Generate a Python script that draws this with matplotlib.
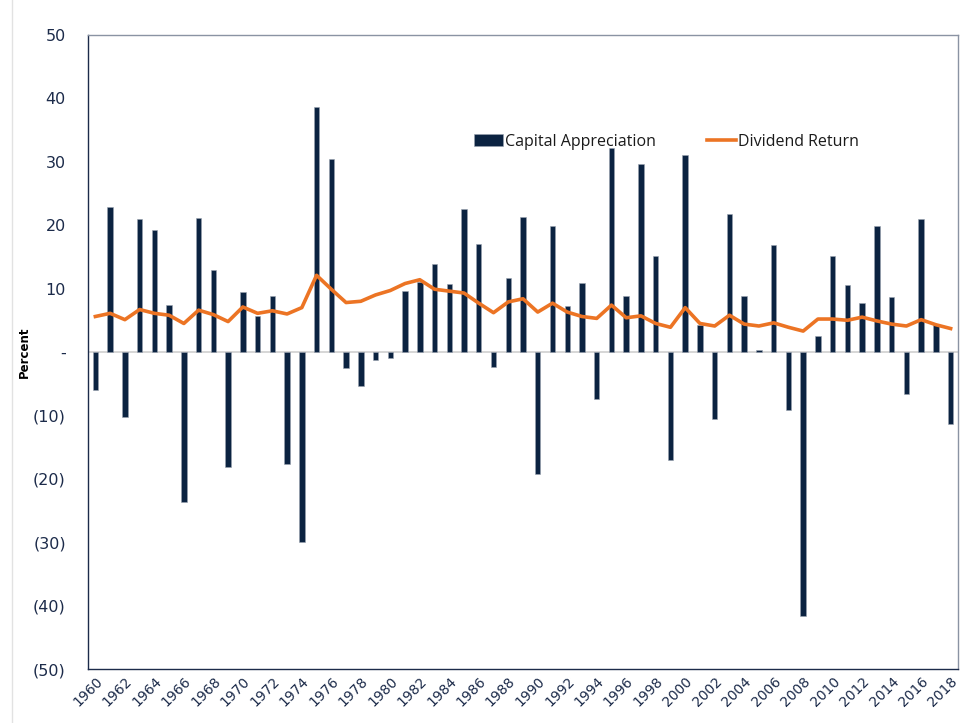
import matplotlib
matplotlib.use("Agg")
import matplotlib.pyplot as plt
from matplotlib.lines import Line2D
import numpy as np

years = list(range(1960, 2019))

capital_appreciation = [
    -6.0, 22.8, -10.3, 21.0, 19.3, 7.4, -23.7, 21.2, 12.9, -18.2,
    9.5, 5.6, 8.9, -17.6, -29.9, 38.7, 30.5, -2.6, -5.3, -1.2,
    -0.9, 9.7, 11.1, 13.9, 10.8, 22.6, 17.0, -2.3, 11.7, 21.3,
    -19.3, 19.8, 7.3, 10.9, -7.4, 32.2, 8.9, 29.7, 15.1, -17.0,
    31.1, 4.3, -10.5, 21.8, 8.9, 0.3, 16.9, -9.1, -41.6, 2.6,
    15.2, 10.5, 7.7, 19.8, 8.6, -6.7, 20.9, 4.3, -11.4,
]

dividend_return = [
    5.6, 6.1, 5.1, 6.7, 6.1, 5.8, 4.5, 6.6, 5.9, 4.8,
    7.1, 6.1, 6.5, 6.0, 7.0, 12.1, 9.9, 7.8, 8.0, 9.0,
    9.7, 10.8, 11.4, 9.9, 9.6, 9.3, 7.7, 6.2, 7.9, 8.4,
    6.3, 7.7, 6.3, 5.6, 5.3, 7.4, 5.4, 5.7, 4.5, 3.9,
    7.0, 4.5, 4.1, 5.8, 4.4, 4.1, 4.6, 3.9, 3.3, 5.2,
    5.2, 5.0, 5.5, 4.9, 4.4, 4.1, 5.1, 4.3, 3.7,
]

y_ticks = [50, 40, 30, 20, 10, 0, -10, -20, -30, -40, -50]
y_labels = ['50', '40', '30', '20', '10', '-', '(10)', '(20)', '(30)', '(40)', '(50)']

navy = '#0b2341'
orange = '#ec7424'
text_col = '#1c2b4a'

fig = plt.figure(figsize=(9.67, 7.23), dpi=100)
ax = fig.add_axes([88 / 967, 1 - 669 / 723, 870 / 967, 634 / 723])

x = np.arange(len(years))
ax.axhline(0, color='#d0d0d0', lw=1.2, zorder=1)
bars = ax.bar(x, capital_appreciation, width=0.37, color=navy, edgecolor='#9aa3b0',
              linewidth=0.4, label='Capital Appreciation', zorder=2)
line, = ax.plot(x, dividend_return, color=orange, lw=2.6, label='Dividend Return', zorder=3)

ax.set_xlim(-0.5, len(years) - 0.5)
ax.set_ylim(-50, 50)
ax.set_yticks(y_ticks)
ax.set_yticklabels(y_labels, fontsize=11.5, color=text_col)
ax.set_xticks(x[::2])
ax.set_xticklabels([str(y) for y in years[::2]], rotation=45, ha='right',
                   rotation_mode='anchor', fontsize=10, color=text_col)
ax.tick_params(axis='both', length=0)
ax.tick_params(axis='y', pad=16)
ax.tick_params(axis='x', pad=4)

ax.set_ylabel('Percent', fontsize=8.5, fontweight='bold', color='black')
ax.yaxis.set_label_coords(-57 / 870, 0.5)

ax.spines['left'].set_color('#1c2b4a')
ax.spines['bottom'].set_color('#1c2b4a')
ax.spines['top'].set_color('#8a93a3')
ax.spines['right'].set_color('#8a93a3')
for s in ax.spines.values():
    s.set_linewidth(1.0)

leg = ax.legend([bars, line], ['Capital Appreciation', 'Dividend Return'],
                loc='center', bbox_to_anchor=(0.665, 0.832), ncol=2, frameon=False,
                handlelength=1.8, handletextpad=0.15, columnspacing=3.2,
                prop={'family': 'Open Sans', 'size': 11.5})
for t in leg.get_texts():
    t.set_color('#1a1a1a')

fig.add_artist(Line2D([12 / 967, 12 / 967], [0, 1], color='#e2e2e2', lw=1))

plt.savefig('out.png', dpi=100)
